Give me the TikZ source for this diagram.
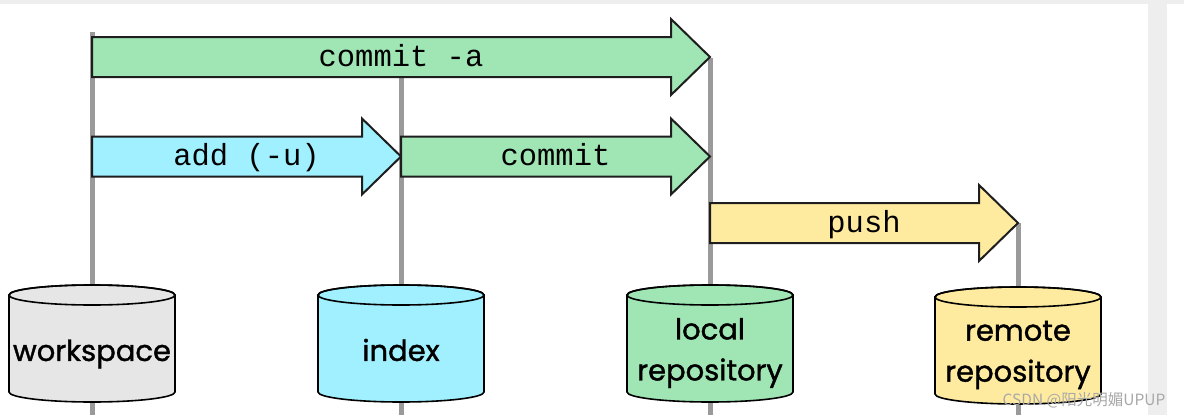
\documentclass[tikz,border=0pt]{standalone}
\usepackage{fontspec}
\setmonofont{Liberation Mono}
\newfontfamily\cylfont{Poppins}[FakeBold=1.3]
\newfontfamily\cjkfont{Noto Sans CJK SC}
\definecolor{bandgray}{HTML}{EEEEEE}
\definecolor{guidegray}{HTML}{9A9A9A}
\definecolor{arrowline}{HTML}{1E1E1E}
\definecolor{mint}{HTML}{A0E6B4}
\definecolor{skyc}{HTML}{A0F0FF}
\definecolor{butter}{HTML}{FFEBA0}
\definecolor{paleg}{HTML}{E6E6E6}
\definecolor{wmgray}{HTML}{A8A8A8}
\newcommand\flowarrow[4]{%
  \filldraw[flow, fill=#4] (#1,#3-20) -- (#2-39,#3-20) -- (#2-39,#3-38) -- (#2,#3)
    -- (#2-39,#3+38) -- (#2-39,#3+20) -- (#1,#3+20) -- cycle;}
\newcommand\dbcyl[3]{%
  \filldraw[cylbody, fill=#3] (#1-83,#2) -- (#1-83,#2+97)
    arc[start angle=180, end angle=0, x radius=83, y radius=10]
    -- (#1+83,#2) arc[start angle=0, end angle=-180, x radius=83, y radius=10] -- cycle;
  \draw[cylbody] (#1,#2) ellipse[x radius=83, y radius=10];}
\begin{document}
\begin{tikzpicture}[x=1pt,y=-1pt,
  guide/.style={line width=5pt, draw=guidegray},
  flow/.style={draw=arrowline, line width=2pt, line join=miter},
  flowlabel/.style={font=\ttfamily\fontsize{30.5}{30.5}\selectfont, anchor=mid, inner sep=0pt},
  cylbody/.style={draw=black, line width=1.6pt},
  cyllabel/.style={font=\cylfont\fontsize{29}{41}\selectfont, align=center, inner sep=0pt}]
\useasboundingbox (0,0) rectangle (1184,415);
\fill[white] (0,0) rectangle (1184,415);
\fill[bandgray] (0,0) rectangle (1184,4);
\fill[bandgray] (1148,0) rectangle (1167,415);

% guide lines
\coordinate (wsTop) at (92,32);   \coordinate (wsBot) at (92,415);
\coordinate (ixTop) at (401,77);  \coordinate (ixBot) at (401,415);
\coordinate (lrTop) at (710,58);  \coordinate (lrBot) at (710,415);
\coordinate (rrTop) at (1018,223); \coordinate (rrBot) at (1018,415);
\draw[guide] (wsTop) -- (wsBot);
\draw[guide] (ixTop) -- (ixBot);
\draw[guide] (lrTop) -- (lrBot);
\draw[guide] (rrTop) -- (rrBot);

% arrows
\flowarrow{92}{710}{57}{mint}
\node[flowlabel] (commitA) at (401,64) {commit -a};
\flowarrow{92}{401}{156.5}{skyc}
\node[flowlabel] (addU) at (246.5,163.5) {add (-u)};
\flowarrow{401}{710}{156.5}{mint}
\node[flowlabel] (commit) at (555.5,163.5) {commit};
\flowarrow{710}{1018}{223}{butter}
\node[flowlabel] (push) at (864,230) {push};

% cylinders
\dbcyl{92}{295}{paleg}
\node[cyllabel] (ws) at (92,354) {workspace};
\dbcyl{401}{295}{skyc}
\node[cyllabel] (ix) at (401,350) {index};
\dbcyl{710}{295}{mint}
\node[cyllabel] (lr) at (710,353) {local\\repository};
\dbcyl{1018}{297}{butter}
\node[cyllabel] (rr) at (1018,355) {remote\\repository};

% watermark
\node[font=\cjkfont\fontsize{15.5}{15.5}\selectfont, text=wmgray, inner sep=0pt] (wm) at (1084,400) {CSDN @阳光明媚UPUP};
\end{tikzpicture}
\end{document}
